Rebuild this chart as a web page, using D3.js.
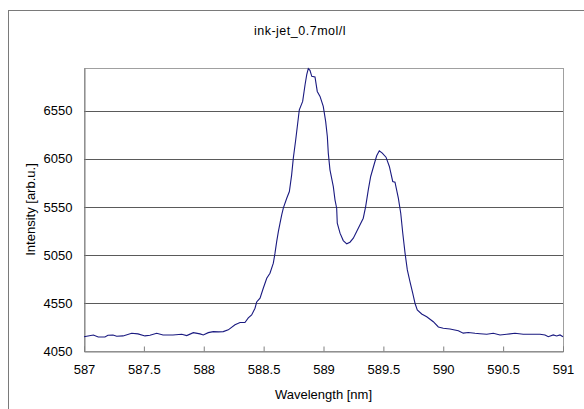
<!DOCTYPE html>
<html>
<head>
<meta charset="utf-8">
<script src="https://cdn.jsdelivr.net/npm/d3@7"></script>
<style>
  body { margin: 0; background: #fff; }
  text { font-family: "Liberation Sans", Arial, sans-serif; fill: #000; }
</style>
</head>
<body>
<script>
const chartTitle = "ink-jet_0.7mol/l";
const xLabel = "Wavelength [nm]";
const yLabel = "Intensity [arb.u.]";

// wavelength [nm]
const wavelength = [
  587.000, 587.078, 587.119, 587.175, 587.200, 587.242, 587.273, 587.326, 587.398, 587.451,
  587.509, 587.551, 587.607, 587.660, 587.743, 587.816, 587.858, 587.913, 587.969, 587.996,
  588.038, 588.080, 588.122, 588.163, 588.205, 588.261, 588.303, 588.344, 588.372, 588.400,
  588.428, 588.442, 588.470, 588.497, 588.526, 588.553, 588.581, 588.595, 588.609, 588.623,
  588.637, 588.651, 588.665, 588.693, 588.715, 588.734, 588.748, 588.768, 588.798, 588.826,
  588.846, 588.860, 588.873, 588.887, 588.902, 588.929, 588.948, 588.971, 588.998, 589.018,
  589.032, 589.040, 589.054, 589.082, 589.096, 589.110, 589.115, 589.138, 589.165, 589.194,
  589.221, 589.249, 589.277, 589.305, 589.332, 589.352, 589.374, 589.394, 589.422, 589.444,
  589.466, 589.491, 589.522, 589.550, 589.578, 589.597, 589.625, 589.645, 589.662, 589.681,
  589.700, 589.722, 589.745, 589.764, 589.783, 589.820, 589.862, 589.917, 589.959, 590.000,
  590.056, 590.126, 590.167, 590.209, 590.265, 590.307, 590.363, 590.418, 590.474, 590.530,
  590.599, 590.668, 590.752, 590.808, 590.850, 590.877, 590.919, 590.947, 590.975, 591.000
];

// intensity [arb.u.]
const intensity = [
  4199, 4217, 4196, 4196, 4214, 4217, 4203, 4207, 4234, 4228,
  4207, 4214, 4234, 4217, 4217, 4224, 4210, 4241, 4228, 4217,
  4241, 4252, 4249, 4252, 4270, 4323, 4347, 4347, 4394, 4425,
  4495, 4560, 4600, 4703, 4807, 4859, 4964, 5068, 5189, 5293,
  5380, 5467, 5540, 5640, 5709, 5883, 6057, 6248, 6560, 6647,
  6821, 6925, 6988, 6970, 6908, 6901, 6751, 6699, 6595, 6439,
  6282, 6109, 5935, 5761, 5623, 5536, 5380, 5276, 5199, 5165,
  5182, 5224, 5293, 5363, 5432, 5553, 5727, 5866, 5988, 6081,
  6133, 6109, 6067, 5970, 5814, 5807, 5640, 5484, 5276, 5068,
  4894, 4772, 4651, 4547, 4477, 4435, 4407, 4355, 4300, 4286,
  4279, 4261, 4236, 4243, 4234, 4230, 4224, 4234, 4217, 4224,
  4234, 4224, 4224, 4224, 4217, 4199, 4217, 4206, 4217, 4199
];

const xTicks = [587, 587.5, 588, 588.5, 589, 589.5, 590, 590.5, 591];
const yTicks = [4050, 4550, 5050, 5550, 6050, 6550];

const W = 584, H = 409;
const plot = {left: 84, right: 563, top: 68, bottom: 351};

var svg = d3.select("body").append("svg")
    .attr("width", W)
    .attr("height", H);

// outer chart frame (runs off the right and bottom)
svg.append("rect")
    .attr("x", 8.5).attr("y", 10.5)
    .attr("width", 600).attr("height", 420)
    .attr("fill", "#fff")
    .attr("stroke", "#7a7a7a");

var x = d3.scaleLinear().domain([587, 591]).range([plot.left, plot.right]);
var y = d3.scaleLinear().domain([4050, 6995]).range([plot.bottom, plot.top]);

// plot area frame
svg.append("rect")
    .attr("x", plot.left + 0.5).attr("y", plot.top + 0.5)
    .attr("width", plot.right - plot.left).attr("height", plot.bottom - plot.top)
    .attr("fill", "#fff")
    .attr("stroke", "#a0a0a0");

// horizontal grid lines
svg.append("g")
    .selectAll("line")
    .data(yTicks.slice(1))
    .enter().append("line")
    .attr("x1", plot.left).attr("x2", plot.right)
    .attr("y1", d => Math.round(y(d)) + 0.5)
    .attr("y2", d => Math.round(y(d)) + 0.5)
    .attr("stroke", "#5a5a5a");

// x axis, ticks pointing into the plot
var xAxis = d3.axisBottom(x).tickValues(xTicks).tickSize(-5).tickPadding(16)
    .tickFormat(d3.format("~g"));
var gx = svg.append("g")
    .attr("transform", "translate(0," + (plot.bottom + 0.5) + ")")
    .call(xAxis);

var yAxis = d3.axisLeft(y).tickValues(yTicks).tickSize(0).tickPadding(12)
    .tickFormat(d3.format("d"));
var gy = svg.append("g")
    .attr("transform", "translate(" + (plot.left + 0.5) + ",0)")
    .call(yAxis);

[gx, gy].forEach(function(g) {
    g.select(".domain").attr("stroke", "#808080");
    g.selectAll(".tick line").attr("stroke", "#808080");
    g.selectAll(".tick text")
        .style("font-family", "'Liberation Sans', Arial, sans-serif")
        .style("font-size", "13px")
        .attr("fill", "#000");
});
gx.selectAll(".tick text").attr("dy", "0.5em");

// spectrum
var line = d3.line()
    .x((d, i) => x(wavelength[i]))
    .y(d => y(d));

svg.append("path")
    .datum(intensity)
    .attr("d", line)
    .attr("fill", "none")
    .attr("stroke", "#1a1a80")
    .attr("stroke-width", 1.1);

// titles
svg.append("text")
    .attr("x", 300).attr("y", 35)
    .attr("text-anchor", "middle")
    .style("font-size", "12.5px")
    .style("letter-spacing", "0.5px")
    .text(chartTitle);

svg.append("text")
    .attr("x", (plot.left + plot.right) / 2).attr("y", 399)
    .attr("text-anchor", "middle")
    .style("font-size", "13px")
    .text(xLabel);

svg.append("text")
    .attr("transform", "translate(35," + ((plot.top + plot.bottom) / 2) + ") rotate(-90)")
    .attr("text-anchor", "middle")
    .style("font-size", "13px")
    .text(yLabel);
</script>
</body>
</html>
